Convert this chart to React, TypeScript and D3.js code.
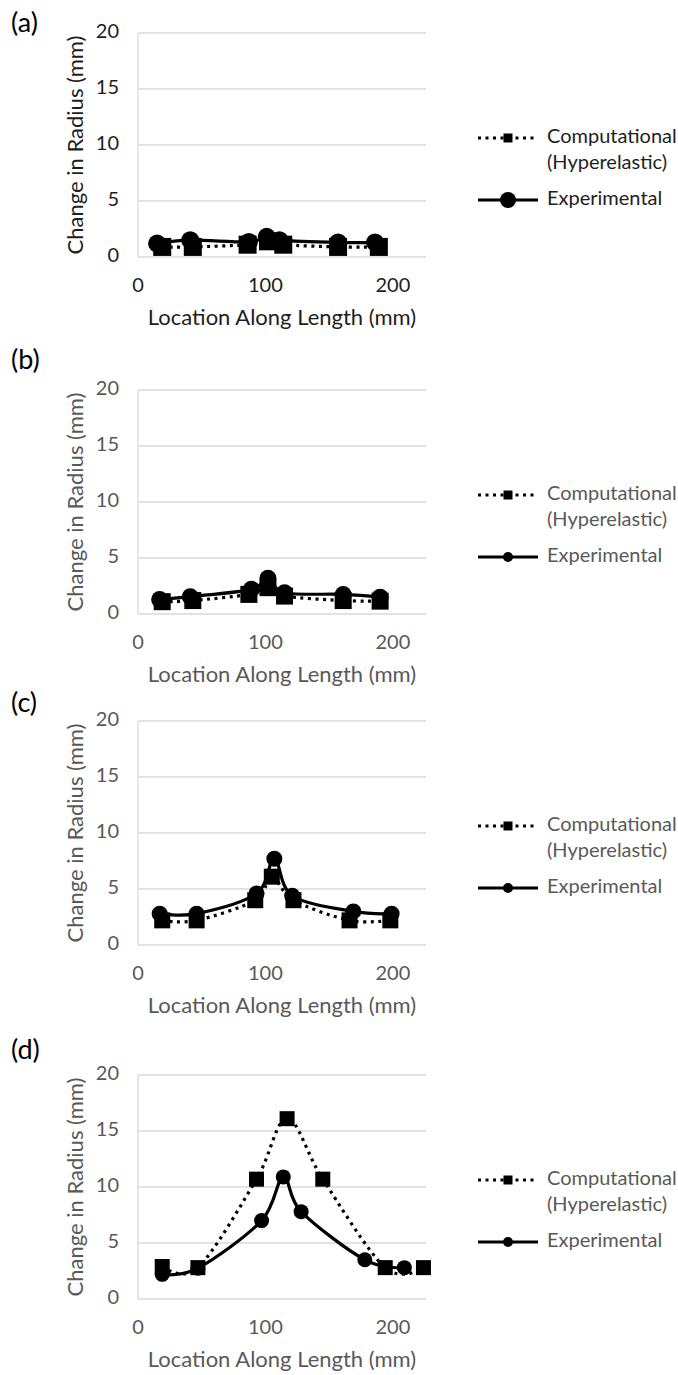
import React, { useEffect, useRef } from "react";
import * as d3 from "d3";

const WIDTH = 678;
const HEIGHT = 1375;

const panelLabels = ["(a)", "(b)", "(c)", "(d)"];
const legendLines = ["Computational", "(Hyperelastic)", "Experimental"];
const xTitle = "Location Along Length (mm)";
const yTitle = "Change in Radius (mm)";
const xTicks = [0, 100, 200];
const yTicks = [0, 5, 10, 15, 20];

// (a)
const aCompX = [19, 43, 86, 102, 114, 157, 189];
const aCompY = [0.9, 0.9, 1.1, 1.4, 1.1, 0.9, 0.9];
const aExpX = [15, 41, 87, 101, 111, 157, 186];
const aExpY = [1.2, 1.5, 1.35, 1.8, 1.5, 1.3, 1.3];
// (b)
const bCompX = [19, 43, 87, 102, 115, 161, 190];
const bCompY = [1.1, 1.2, 1.75, 2.35, 1.6, 1.2, 1.15];
const bExpX = [17, 41, 89, 102, 115, 161, 190];
const bExpY = [1.3, 1.55, 2.2, 3.2, 1.9, 1.75, 1.5];
// (c)
const cCompX = [19, 46, 92, 105, 122, 166, 198];
const cCompY = [2.2, 2.2, 4.0, 6.1, 4.0, 2.2, 2.2];
const cExpX = [17, 46, 93, 107, 121, 169, 199];
const cExpY = [2.8, 2.8, 4.6, 7.7, 4.4, 3.0, 2.8];
// (d)
const dCompX = [19, 47, 93, 117, 145, 194, 224];
const dCompY = [2.9, 2.8, 10.7, 16.1, 10.7, 2.8, 2.8];
const dExpX = [19, 47, 97, 114, 128, 178, 209];
const dExpY = [2.2, 2.75, 7.0, 10.9, 7.8, 3.5, 2.8];

const zip = (xs: number[], ys: number[]) => xs.map((x, i) => [x, ys[i]] as [number, number]);

const panels = [
  { label: panelLabels[0], top: 33, labelY: 25, comp: zip(aCompX, aCompY), exp: zip(aExpX, aExpY), ink: "#1e1e1e", marker: 18, legendCircle: 16 },
  { label: panelLabels[1], top: 390, labelY: 362, comp: zip(bCompX, bCompY), exp: zip(bExpX, bExpY), ink: "#595959", marker: 17, legendCircle: 10 },
  { label: panelLabels[2], top: 721, labelY: 705, comp: zip(cCompX, cCompY), exp: zip(cExpX, cExpY), ink: "#595959", marker: 16, legendCircle: 10 },
  { label: panelLabels[3], top: 1075, labelY: 1052, comp: zip(dCompX, dCompY), exp: zip(dExpX, dExpY), ink: "#595959", marker: 15, legendCircle: 10 },
];

const FONT = "Lato, 'Open Sans', sans-serif";
const PLOT_LEFT = 138;
const PLOT_RIGHT = 426;
const PLOT_H = 224;

export default function App() {
  const svgRef = useRef<SVGSVGElement>(null);

  useEffect(() => {
    const svg = d3.select(svgRef.current);
    svg.selectAll("*").remove();
    svg.append("rect").attr("width", WIDTH).attr("height", HEIGHT).attr("fill", "#fff");

    const x = d3.scaleLinear().domain([0, 226]).range([PLOT_LEFT, PLOT_RIGHT]);

    panels.forEach((p) => {
      const y = d3.scaleLinear().domain([0, 20]).range([p.top + PLOT_H, p.top]);
      const g = svg.append("g");
      const bottom = y(0);

      // panel label
      g.append("text")
        .attr("x", 11)
        .attr("y", p.labelY)
        .attr("dominant-baseline", "middle")
        .attr("font-family", FONT)
        .attr("font-size", 27)
        .attr("fill", "#000")
        .text(p.label);

      // gridlines
      g.selectAll(".grid")
        .data(yTicks)
        .join("line")
        .attr("x1", PLOT_LEFT)
        .attr("x2", PLOT_RIGHT)
        .attr("y1", (d) => y(d))
        .attr("y2", (d) => y(d))
        .attr("stroke", "#d9d9d9")
        .attr("stroke-width", 1.3);
      g.append("line")
        .attr("x1", PLOT_LEFT)
        .attr("x2", PLOT_LEFT)
        .attr("y1", y(20))
        .attr("y2", bottom)
        .attr("stroke", "#d9d9d9")
        .attr("stroke-width", 1.3);

      // tick labels
      g.selectAll(".ytick")
        .data(yTicks)
        .join("text")
        .attr("x", 119)
        .attr("y", (d) => y(d))
        .attr("text-anchor", "end")
        .attr("dominant-baseline", "middle")
        .attr("font-family", FONT)
        .attr("font-size", 20)
        .attr("fill", p.ink)
        .text((d) => d);
      g.selectAll(".xtick")
        .data(xTicks)
        .join("text")
        .attr("x", (d) => x(d))
        .attr("y", bottom + 30)
        .attr("text-anchor", "middle")
        .attr("dominant-baseline", "middle")
        .attr("font-family", FONT)
        .attr("font-size", 20)
        .attr("fill", p.ink)
        .text((d) => d);

      // axis titles
      g.append("text")
        .attr("x", 282)
        .attr("y", bottom + 62)
        .attr("text-anchor", "middle")
        .attr("dominant-baseline", "middle")
        .attr("font-family", FONT)
        .attr("font-size", 22)
        .attr("fill", p.ink)
        .text(xTitle);
      g.append("text")
        .attr("transform", `translate(77,${(y(20) + bottom) / 2}) rotate(-90)`)
        .attr("text-anchor", "middle")
        .attr("dominant-baseline", "middle")
        .attr("font-family", FONT)
        .attr("font-size", 22)
        .attr("fill", p.ink)
        .text(yTitle);

      const line = d3
        .line<[number, number]>()
        .x((d) => x(d[0]))
        .y((d) => y(d[1]))
        .curve(d3.curveCardinal.tension(0));

      // computational (dotted, squares)
      g.append("path")
        .attr("d", line(p.comp))
        .attr("fill", "none")
        .attr("stroke", "#000")
        .attr("stroke-width", 3.2)
        .attr("stroke-dasharray", "3 4.5");
      // experimental (solid, circles)
      g.append("path")
        .attr("d", line(p.exp))
        .attr("fill", "none")
        .attr("stroke", "#000")
        .attr("stroke-width", 3.2);

      const s = p.marker;
      g.selectAll(".sq")
        .data(p.comp)
        .join("rect")
        .attr("x", (d) => x(d[0]) - s / 2)
        .attr("y", (d) => y(d[1]) - s / 2)
        .attr("width", s)
        .attr("height", s)
        .attr("fill", "#000");
      g.selectAll(".ci")
        .data(p.exp)
        .join("circle")
        .attr("cx", (d) => x(d[0]))
        .attr("cy", (d) => y(d[1]))
        .attr("r", s / 2)
        .attr("fill", "#000");

      // legend
      const ly1 = p.top + 105;
      const ly2 = p.top + 131;
      const ly3 = p.top + 167;
      g.append("line")
        .attr("x1", 478)
        .attr("x2", 538)
        .attr("y1", ly1)
        .attr("y2", ly1)
        .attr("stroke", "#000")
        .attr("stroke-width", 3.2)
        .attr("stroke-dasharray", "3 4.5");
      g.append("rect")
        .attr("x", 508 - 4.5)
        .attr("y", ly1 - 4.5)
        .attr("width", 9)
        .attr("height", 9)
        .attr("fill", "#000");
      g.append("line")
        .attr("x1", 478)
        .attr("x2", 538)
        .attr("y1", ly3)
        .attr("y2", ly3)
        .attr("stroke", "#000")
        .attr("stroke-width", 3.2);
      g.append("circle")
        .attr("cx", 508)
        .attr("cy", ly3)
        .attr("r", p.legendCircle / 2)
        .attr("fill", "#000");

      [ly1, ly2, ly3].forEach((ly, i) => {
        g.append("text")
          .attr("x", 547)
          .attr("y", ly)
          .attr("dominant-baseline", "middle")
          .attr("font-family", FONT)
          .attr("font-size", 20)
          .attr("fill", p.ink)
          .text(legendLines[i]);
      });
    });
  }, []);

  return (
    <svg
      ref={svgRef}
      width={WIDTH}
      height={HEIGHT}
      style={{ position: "absolute", left: 0, top: 0 }}
    />
  );
}
